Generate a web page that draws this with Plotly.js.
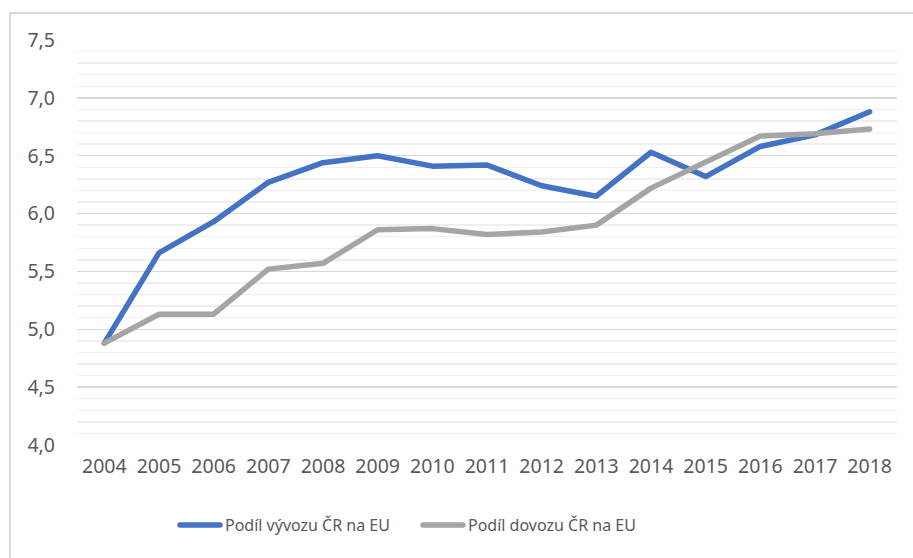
<!DOCTYPE html>
<html>
<head>
<meta charset="utf-8">
<script src="https://cdn.plot.ly/plotly-3.0.1.min.js"></script>
<style>
  html, body { margin: 0; padding: 0; background: #ffffff; }
  #frame { position: absolute; left: 9px; top: 12px; width: 920px; height: 560px; border: 2px solid #d9d9d9; box-sizing: border-box; }
  #chart { position: absolute; left: 0; top: 0; width: 913px; height: 558px; }
  #chart path.js-line { stroke-linecap: round; stroke-linejoin: round; }
  #chart .legendlines path { stroke-linecap: round; }
</style>
</head>
<body>
<div id="frame"></div>
<div id="chart"></div>
<script>
const years = ['2004','2005','2006','2007','2008','2009','2010','2011','2012','2013','2014','2015','2016','2017','2018'];
const exportShare = [4.88, 5.66, 5.93, 6.27, 6.44, 6.50, 6.41, 6.42, 6.24, 6.15, 6.53, 6.32, 6.58, 6.68, 6.88];
const importShare = [4.88, 5.13, 5.13, 5.52, 5.57, 5.86, 5.87, 5.82, 5.84, 5.90, 6.22, 6.45, 6.67, 6.69, 6.73];
const seriesNames = ['Podíl vývozu ČR na EU', 'Podíl dovozu ČR na EU'];

const fontFam = '"Noto Sans", "Open Sans", sans-serif';

const traces = [
  { x: years, y: exportShare, name: seriesNames[0], type: 'scatter', mode: 'lines',
    line: { color: '#4472C4', width: 5.5 } },
  { x: years, y: importShare, name: seriesNames[1], type: 'scatter', mode: 'lines',
    line: { color: '#A5A5A5', width: 5.5 } }
];

const layout = {
  width: 913, height: 558,
  paper_bgcolor: 'rgba(0,0,0,0)', plot_bgcolor: 'rgba(0,0,0,0)',
  separators: ',.',
  margin: { l: 77, r: 16, t: 40, b: 113 },
  font: { family: fontFam, color: '#595959', size: 19 },
  showlegend: true,
  legend: { orientation: 'h', x: 0.1195, xanchor: 'left', y: -0.1975, yanchor: 'middle',
            font: { size: 16, color: '#595959' }, itemwidth: 40, traceorder: 'normal',
            entrywidth: 188 },
  xaxis: { type: 'category', range: [-0.5, 14.5], showgrid: false, showline: false, zeroline: false,
           ticks: '', tickfont: { size: 19.5 }, ticklabelstandoff: 7, fixedrange: true },
  yaxis: { range: [4, 7.5], dtick: 0.5, tick0: 4, tickformat: '.1f', showline: false, zeroline: false,
           gridcolor: '#d9d9d9', gridwidth: 1.5, ticks: '', tickfont: { size: 19.5 },
           ticklabelstandoff: 21,
           minor: { dtick: 0.1, tick0: 4, showgrid: true, gridcolor: '#efefef', gridwidth: 1.5 } }
};

Plotly.newPlot('chart', traces, layout, { displayModeBar: false, staticPlot: true });
</script>
</body>
</html>
